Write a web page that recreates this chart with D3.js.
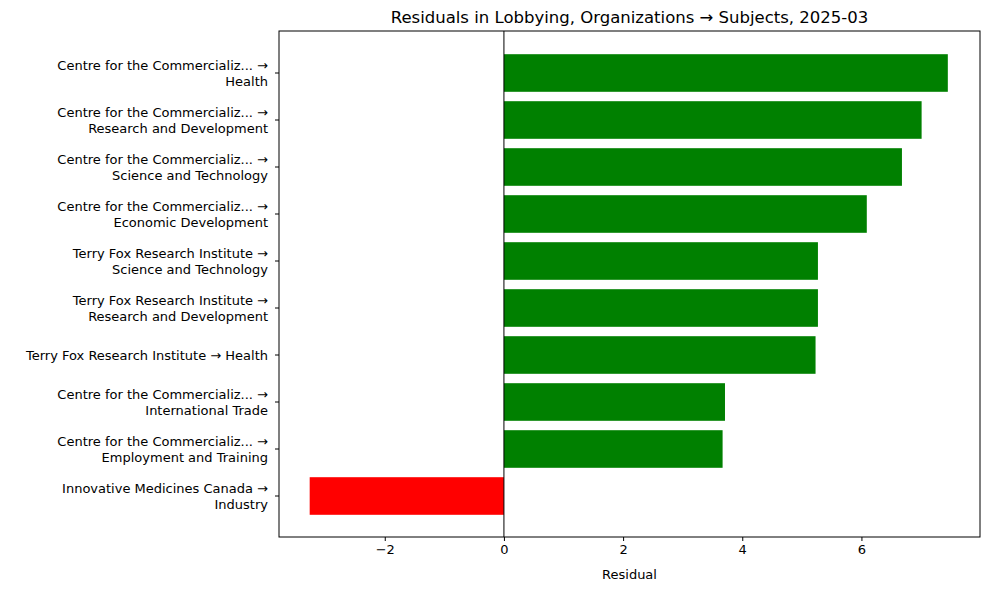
<!DOCTYPE html>
<html><head><meta charset="utf-8">
<script src="https://cdn.jsdelivr.net/npm/d3@7"></script>
<style>body{margin:0;background:#fff}text{font-family:"DejaVu Sans",sans-serif}</style>
</head><body><svg id="c" width="989" height="590"></svg>
<script>
const labels = [
 ["Centre for the Commercializ... →","Health"],
 ["Centre for the Commercializ... →","Research and Development"],
 ["Centre for the Commercializ... →","Science and Technology"],
 ["Centre for the Commercializ... →","Economic Development"],
 ["Terry Fox Research Institute →","Science and Technology"],
 ["Terry Fox Research Institute →","Research and Development"],
 ["Terry Fox Research Institute → Health"],
 ["Centre for the Commercializ... →","International Trade"],
 ["Centre for the Commercializ... →","Employment and Training"],
 ["Innovative Medicines Canada →","Industry"]
];
const values = [7.45, 7.01, 6.68, 6.09, 5.27, 5.27, 5.23, 3.71, 3.67, -3.26];
const xTicks = [-2, 0, 2, 4, 6];

const svg = d3.select("#c");
const L=279,R=980,T=31,B=537;
const x = d3.scaleLinear().domain([-3.775, 7.99]).range([L,R]);
const step = 47, pad = 42 - step/2;
const y = d3.scaleBand().domain(d3.range(values.length)).range([T+pad, T+pad+step*values.length]).paddingInner(0.2).paddingOuter(0.1);

svg.append("g").selectAll("rect").data(values).join("rect")
 .attr("x", d=>x(Math.min(0,d))).attr("width", d=>Math.abs(x(d)-x(0)))
 .attr("y",(d,i)=>y(i)).attr("height",y.bandwidth())
 .attr("fill", d=>d>=0?"green":"red");

svg.append("line").attr("x1",x(0)).attr("x2",x(0)).attr("y1",T).attr("y2",B).attr("stroke","black").attr("stroke-width",1);

const xa = svg.append("g").attr("transform",`translate(0,${B})`)
 .call(d3.axisBottom(x).tickValues(xTicks).tickSize(4).tickPadding(4).tickFormat(d=>d<0?"−"+Math.abs(d):d));
xa.select(".domain").remove();
xa.selectAll("text").attr("font-size",13).attr("fill","#000");

const ya = svg.append("g").attr("transform",`translate(${L},0)`)
 .call(d3.axisLeft(y).tickSize(4).tickFormat(""));
ya.select(".domain").remove();
ya.selectAll(".tick").each(function(i){
  const t=d3.select(this).append("text").attr("x",-11).attr("text-anchor","end").attr("font-size",13).attr("fill","#000");
  const lines=labels[i];
  lines.forEach((s,k)=>t.append("tspan").attr("x",-11).attr("y",(k-(lines.length-1)/2)*16).attr("dy","0.35em").text(s));
});

svg.append("rect").attr("x",L).attr("y",T).attr("width",R-L).attr("height",B-T).attr("fill","none").attr("stroke","black").attr("stroke-width",1);

svg.append("text").attr("x",(L+R)/2).attr("y",23).attr("text-anchor","middle").attr("font-size",16.5).text("Residuals in Lobbying, Organizations → Subjects, 2025-03");
svg.append("text").attr("x",(L+R)/2).attr("y",579).attr("text-anchor","middle").attr("font-size",13).text("Residual");
</script></body></html>
